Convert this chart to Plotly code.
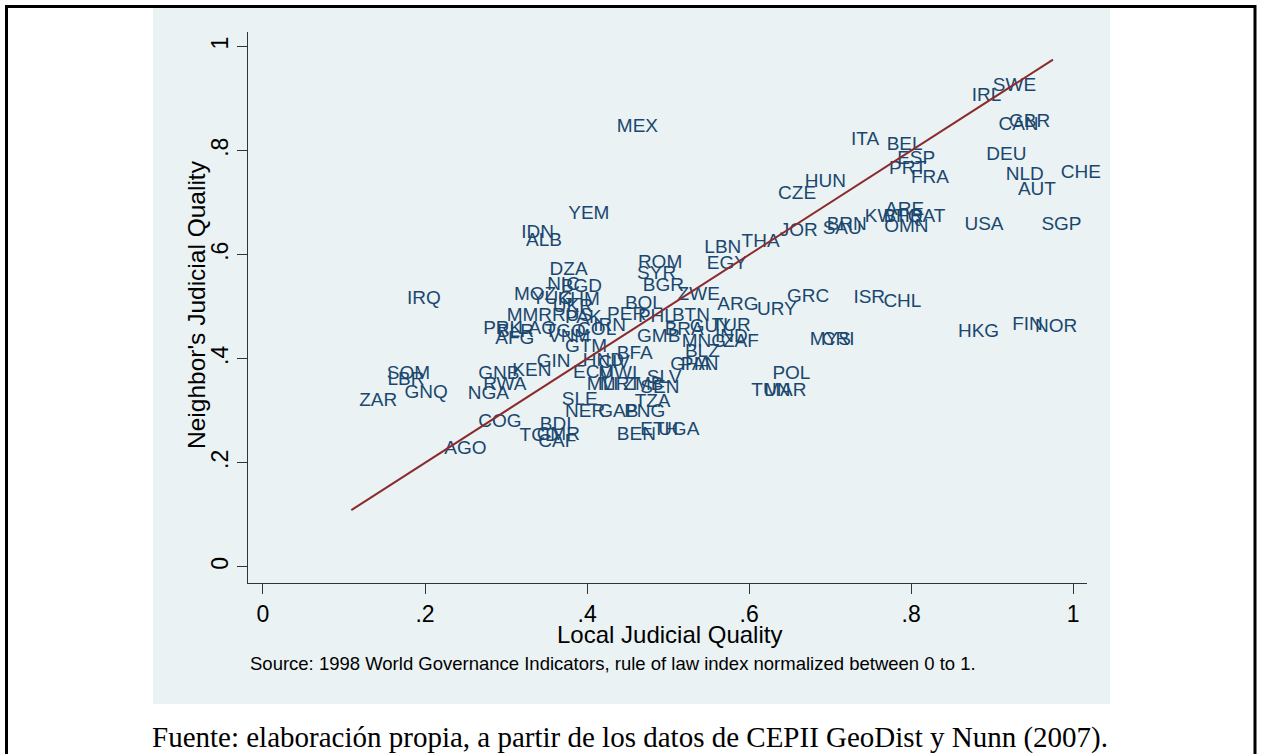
import plotly.graph_objects as go

countries = ["SWE","IRL","CAN","GBR","ITA","BEL","ESP","PRT","FRA","DEU","NLD","CHE","AUT",
             "HUN","CZE","ARE","KWT","BHR","QAT","OMN","BRN","SAU","JOR","THA","USA","SGP","MEX",
             "URY","GRC","ISR","CHL","MYS","CRI","HKG","FIN","NOR","POL","TUN","MAR",
             "ROM","SYR","BGR","LBN","EGY","ZWE","ARG","BOL","PER","PHL","BTN","BRA","GMB",
             "GUY","TUR","IND","ZAF","MNG","BLZ","BFA","GHA","PAN","GTM","HND","CIV","ECU","MWI",
             "MLI","MRT","ZMB","SEN","SLV","SLE","NER","GAB","PNG","TZA","ETH","UGA","BEN",
             "BDI","TCD","CMR","CAF","COG","AGO","ZAR","SOM","LBR","GNQ","NGA","GNB","RWA","KEN",
             "GIN","IRQ","DZA","NIC","BGD","MOZ","YUG","KHM","MMR","UKR","RUS","PAK","PRK","BLR",
             "LAO","AFG","TGO","VNM","COL","IRN","YEM","IDN","ALB"]

local_quality = [0.891,0.865,0.898,0.911,0.716,0.760,0.773,0.763,0.790,0.883,0.907,0.975,0.922,
                 0.659,0.626,0.758,0.733,0.756,0.786,0.757,0.686,0.681,0.628,0.581,0.856,0.951,0.427,
                 0.600,0.637,0.719,0.756,0.665,0.680,0.848,0.915,0.943,0.619,0.593,0.609,
                 0.453,0.452,0.459,0.535,0.538,0.502,0.551,0.437,0.415,0.453,0.495,0.486,0.452,
                 0.517,0.544,0.548,0.558,0.507,0.511,0.427,0.493,0.506,0.363,0.385,0.404,0.373,0.404,
                 0.390,0.406,0.435,0.456,0.464,0.359,0.363,0.404,0.436,0.449,0.456,0.478,0.427,
                 0.332,0.307,0.328,0.330,0.256,0.214,0.109,0.143,0.144,0.165,0.243,0.256,0.262,0.298,
                 0.328,0.168,0.344,0.341,0.358,0.300,0.322,0.354,0.291,0.348,0.347,0.363,0.262,0.279,
                 0.305,0.277,0.338,0.342,0.378,0.398,0.367,0.309,0.315]

neighbor_quality = [0.923,0.905,0.848,0.855,0.819,0.811,0.784,0.765,0.747,0.792,0.753,0.757,0.724,
                    0.740,0.717,0.686,0.672,0.672,0.672,0.653,0.657,0.648,0.646,0.624,0.657,0.657,0.844,
                    0.494,0.519,0.517,0.509,0.436,0.436,0.451,0.465,0.461,0.371,0.338,0.338,
                    0.584,0.563,0.540,0.613,0.582,0.522,0.503,0.505,0.484,0.480,0.482,0.455,0.442,
                    0.461,0.463,0.442,0.432,0.432,0.413,0.409,0.388,0.388,0.423,0.396,0.392,0.372,0.371,
                    0.349,0.349,0.349,0.344,0.363,0.321,0.298,0.298,0.298,0.317,0.263,0.263,0.253,
                    0.273,0.251,0.253,0.240,0.278,0.226,0.319,0.371,0.359,0.334,0.332,0.371,0.349,0.376,
                    0.394,0.515,0.571,0.542,0.538,0.522,0.515,0.513,0.482,0.499,0.482,0.478,0.457,0.451,
                    0.457,0.438,0.451,0.442,0.455,0.463,0.678,0.642,0.626]

# fitted line: y = a + b*x over the data range
fit_intercept = 0.0
fit_slope = 1.0

x_ticks = [0, 0.2, 0.4, 0.6, 0.8, 1.0]
x_ticklabels = ["0", ".2", ".4", ".6", ".8", "1"]
y_ticks = [0, 0.2, 0.4, 0.6, 0.8, 1.0]
y_ticklabels = ["0", ".2", ".4", ".6", ".8", "1"]

W, H = 1262, 754
L, R, T, B = 248, 1087, 32, 583  # plot area in page pixels


def px(xp):
    return (xp - L) / (R - L)


def py(yp):
    return (B - yp) / (B - T)


NAVY = "#1A476F"
GRID = "#EAF2F3"
FONT = "Arial, Liberation Sans, sans-serif"

fig = go.Figure()

fig.add_trace(go.Scatter(
    x=local_quality, y=neighbor_quality, text=countries,
    mode="markers+text", textposition="middle right",
    marker=dict(size=11, color="rgba(0,0,0,0)"),
    textfont=dict(family=FONT, size=19, color=NAVY),
    hoverinfo="skip", showlegend=False, cliponaxis=False,
))

xmin, xmax = min(local_quality), max(local_quality)
fig.add_trace(go.Scatter(
    x=[xmin, xmax], y=[fit_intercept + fit_slope * xmin, fit_intercept + fit_slope * xmax],
    mode="lines", line=dict(color="#8C2B2E", width=2),
    hoverinfo="skip", showlegend=False,
))

fig.update_layout(
    width=W, height=H,
    margin=dict(l=L, r=W - R, t=T, b=H - B, pad=0),
    paper_bgcolor="white", plot_bgcolor="white",
    font=dict(family=FONT, color="black"),
    xaxis=dict(range=[-0.0185, 1.017], tickvals=x_ticks, ticktext=x_ticklabels,
               showgrid=False, zeroline=False, showline=True, linecolor="#333333", linewidth=1,
               ticks="outside", ticklen=10, tickcolor="#333333", tickwidth=1,
               tickfont=dict(size=23, family=FONT, color="black")),
    yaxis=dict(range=[-0.031, 1.028], tickvals=y_ticks, ticktext=y_ticklabels,
               showgrid=True, gridcolor=GRID, gridwidth=2, zeroline=False,
               showline=True, linecolor="#333333", linewidth=1,
               ticks="outside", ticklen=10, tickcolor="#333333", tickwidth=1, tickangle=-90,
               tickfont=dict(size=23, family=FONT, color="black")),
    shapes=[
        dict(type="rect", xref="paper", yref="paper", layer="below",
             x0=px(153), x1=px(1110), y0=py(704), y1=py(7),
             fillcolor=GRID, line=dict(width=0)),
        dict(type="rect", xref="paper", yref="paper", layer="above",
             x0=px(6.5), x1=px(1255), y0=py(770), y1=py(6.5),
             fillcolor="rgba(0,0,0,0)", line=dict(color="black", width=3)),
    ],
    annotations=[
        dict(text="Local Judicial Quality", xref="paper", yref="paper",
             x=px(669), y=py(634), xanchor="center", yanchor="middle", showarrow=False,
             font=dict(size=24, family=FONT, color="black")),
        dict(text="Neighbor's Judicial Quality", xref="paper", yref="paper",
             x=px(196), y=py(305), xanchor="center", yanchor="middle", showarrow=False,
             textangle=-90, font=dict(size=24.5, family=FONT, color="black")),
        dict(text="Source: 1998 World Governance Indicators, rule of law index normalized between 0 to 1.",
             xref="paper", yref="paper", x=px(248), y=py(663), xanchor="left", yanchor="middle",
             showarrow=False, font=dict(size=18.5, family=FONT, color="black")),
        dict(text="Fuente: elaboración propia, a partir de los datos de CEPII GeoDist y Nunn (2007).",
             xref="paper", yref="paper", x=px(630), y=py(737), xanchor="center", yanchor="middle",
             showarrow=False, font=dict(size=29, family="Times New Roman, Liberation Serif, serif",
                                        color="black")),
    ],
)

fig.write_html("out.html", config={"displayModeBar": False},
               post_script="document.body.style.margin='0px';document.body.style.overflow='hidden';")
